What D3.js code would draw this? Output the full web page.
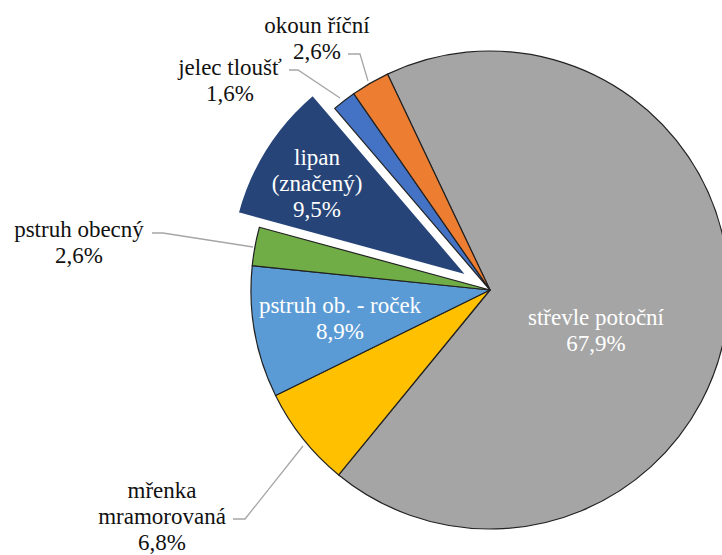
<!DOCTYPE html>
<html>
<head>
<meta charset="utf-8">
<script src="https://cdn.jsdelivr.net/npm/d3@7"></script>
</head>
<body style="margin:0">
<script>
// data
var names = ["střevle potoční", "mřenka mramorovaná", "pstruh ob. - roček", "pstruh obecný", "lipan (značený)", "jelec tloušť", "okoun říční"];
var values = [67.9, 6.8, 8.9, 2.6, 9.5, 1.6, 2.6];
var labels = ["67,9%", "6,8%", "8,9%", "2,6%", "9,5%", "1,6%", "2,6%"];
var colors = ["#a5a5a5", "#ffc000", "#5b9bd5", "#70ad47", "#264478", "#4472c4", "#ed7d31"];

var width = 722, height = 555;
var cx = 490, cy = 290, r = 239;
var start = -25.4 * Math.PI / 180;

var svg = d3.select("body").append("svg")
    .attr("width", width).attr("height", height)
    .attr("font-family", "'Times New Roman'")
    .style("display", "block");

var data = names.map(function(n, i) { return {name: n, value: values[i], label: labels[i], color: colors[i]}; });

var pie = d3.pie().sort(null).value(function(d) { return d.value; })
    .startAngle(start).endAngle(start + 2 * Math.PI);
var arcs = pie(data);
var arc = d3.arc().innerRadius(0).outerRadius(r);

var g = svg.append("g").attr("transform", "translate(" + cx + "," + cy + ")");

// lipan is pulled out of the pie
function offset(d) {
  if (d.data.name !== "lipan (značený)") return [0, 0];
  var a = (d.startAngle + d.endAngle) / 2;
  return [Math.sin(a) * 26, -Math.cos(a) * 26];
}

g.selectAll("path.slice")
  .data(arcs)
  .enter().append("path")
  .attr("class", "slice")
  .attr("d", arc)
  .attr("transform", function(d) { var o = offset(d); return "translate(" + o[0] + "," + o[1] + ")"; })
  .attr("fill", function(d) { return d.data.color; })
  .attr("stroke", function(d) { return d.data.name === "lipan (značený)" ? "#fff" : "#222"; })
  .attr("stroke-width", function(d) { return d.data.name === "lipan (značený)" ? 2.5 : 1.2; })
  .attr("stroke-linejoin", "round");

// leader lines (absolute coords of label ends)
var leaders = [
  {name: "okoun říční", pts: [[348, 54], [360, 54], [368, 81]]},
  {name: "jelec tloušť", pts: [[289, 70], [298, 70], [340, 98]]},
  {name: "pstruh obecný", pts: [[152, 233], [163, 233], [253, 247]]},
  {name: "mřenka mramorovaná", pts: [[233, 519], [245, 519], [303, 446]]}
];
svg.selectAll("path.leader")
  .data(leaders)
  .enter().append("path")
  .attr("class", "leader")
  .attr("d", function(d) { return d3.line()(d.pts); })
  .attr("fill", "none")
  .attr("stroke", "#a6a6a6")
  .attr("stroke-width", 1.3);

// labels: lines, centre x, first line centre y, colour
var textBlocks = [
  {lines: ["střevle potoční", labels[0]], x: 596, y: 317, fill: "#fff"},
  {lines: ["mřenka", "mramorovaná", labels[1]], x: 162, y: 490, fill: "#111"},
  {lines: ["pstruh ob. - roček", labels[2]], x: 340, y: 305, fill: "#fff"},
  {lines: ["pstruh obecný", labels[3]], x: 79, y: 229, fill: "#111"},
  {lines: ["lipan", "(značený)", labels[4]], x: 317, y: 157, fill: "#fff"},
  {lines: ["jelec tloušť", labels[5]], x: 230, y: 67, fill: "#111"},
  {lines: ["okoun říční", labels[6]], x: 317, y: 25, fill: "#111"}
];

// one text element per line
var rows = [];
textBlocks.forEach(function(b) {
  b.lines.forEach(function(l, i) {
    rows.push({t: l, x: b.x, y: b.y + i * 26, fill: b.fill});
  });
});

svg.selectAll("text")
  .data(rows)
  .enter().append("text")
  .attr("x", function(d) { return d.x; })
  .attr("y", function(d) { return d.y + 8; })
  .attr("text-anchor", "middle")
  .attr("font-family", "'Times New Roman'")
  .attr("font-size", 23)
  .attr("fill", function(d) { return d.fill; })
  .text(function(d) { return d.t; });
</script>
</body>
</html>
